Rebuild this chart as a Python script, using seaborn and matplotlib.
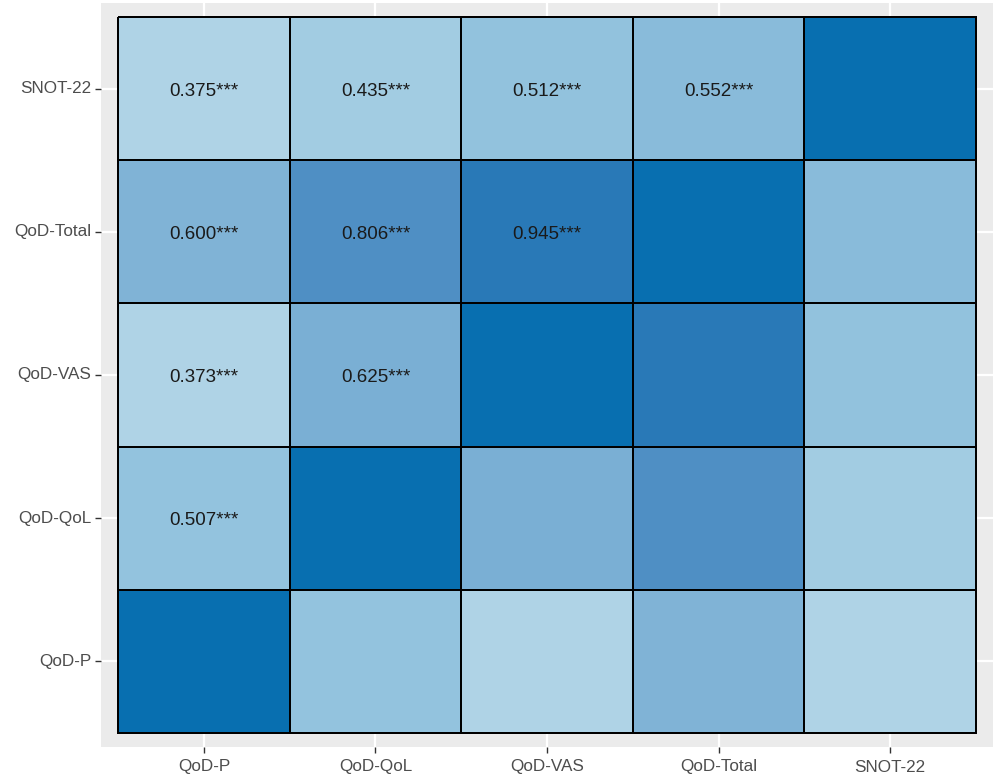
import numpy as np
import pandas as pd
import matplotlib
matplotlib.use("Agg")
import matplotlib.pyplot as plt
from matplotlib.colors import LinearSegmentedColormap
import seaborn as sns

# Questionnaire scores, bottom-to-top / left-to-right
variables = ["QoD-P", "QoD-QoL", "QoD-VAS", "QoD-Total", "SNOT-22"]

# Pairwise Spearman correlations (upper triangle, row variable vs column variable)
pairs = [
    ("QoD-P", "QoD-QoL", 0.507),
    ("QoD-P", "QoD-VAS", 0.373),
    ("QoD-P", "QoD-Total", 0.600),
    ("QoD-P", "SNOT-22", 0.375),
    ("QoD-QoL", "QoD-VAS", 0.625),
    ("QoD-QoL", "QoD-Total", 0.806),
    ("QoD-QoL", "SNOT-22", 0.435),
    ("QoD-VAS", "QoD-Total", 0.945),
    ("QoD-VAS", "SNOT-22", 0.512),
    ("QoD-Total", "SNOT-22", 0.552),
]
stars = "***"

n = len(variables)
idx = {v: i for i, v in enumerate(variables)}
corr = np.eye(n)
for a, b, r in pairs:
    corr[idx[a], idx[b]] = r
    corr[idx[b], idx[a]] = r

# Labels only where the row variable sits above the column variable
labels = np.full((n, n), "", dtype=object)
for a, b, r in pairs:
    labels[idx[b], idx[a]] = f"{r:.3f}{stars}"

# Heatmap rows run top-down, so reverse the order for the y axis
order_rows = variables[::-1]
df = pd.DataFrame(corr, index=variables, columns=variables).loc[order_rows, variables]
annot = pd.DataFrame(labels, index=variables, columns=variables).loc[order_rows, variables]

cmap = LinearSegmentedColormap.from_list(
    "blues_corr",
    [
        (0.000, "#AFD3E6"),
        (0.205, "#94C4DE"),
        (0.365, "#7FB3D6"),
        (0.690, "#4F8FC4"),
        (0.912, "#2A79B7"),
        (1.000, "#086FB0"),
    ],
)

plt.rcParams["font.family"] = ["Liberation Sans", "DejaVu Sans"]

fig = plt.figure(figsize=(9.94, 7.77), dpi=100)
ax = fig.add_axes([101 / 994, 30 / 777, 892 / 994, 744 / 777])
ax.set_facecolor("#EBEBEB")
ax.set_axisbelow(True)

sns.heatmap(
    df,
    ax=ax,
    cmap=cmap,
    vmin=0.373,
    vmax=1.0,
    annot=annot.values,
    fmt="",
    annot_kws={"fontsize": 13.5, "color": "#1A1A1A"},
    linewidths=1.2,
    linecolor="black",
    cbar=False,
    square=False,
)

# Nudge the cell labels slightly below centre
for t in ax.texts:
    x, y = t.get_position()
    t.set_position((x, y + 0.02))

ax.set_xlim(-0.1, n + 0.1)
ax.set_ylim(n + 0.1, -0.1)
ax.set_xlabel("")
ax.set_ylabel("")
for s in ax.spines.values():
    s.set_visible(False)

ax.grid(True, color="white", linewidth=1.6)
ax.set_xticks(np.arange(n) + 0.5)
ax.set_yticks(np.arange(n) + 0.5)
ax.set_xticklabels(variables, rotation=0)
ax.set_yticklabels(order_rows, rotation=0)
ax.tick_params(axis="both", colors="#333333", length=4, width=1.0,
               labelsize=12.3, labelcolor="#4D4D4D", pad=3)
ax.tick_params(axis="x", pad=5)
ax.tick_params(axis="y", left=True)

fig.savefig("out.png", dpi=100, facecolor="white")
